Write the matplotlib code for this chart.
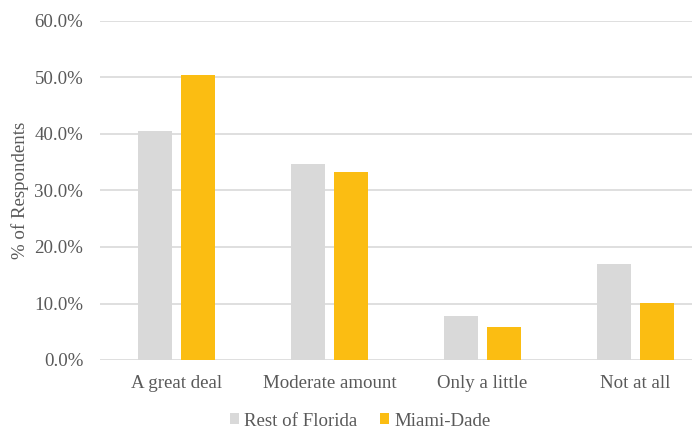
import numpy as np
import matplotlib
matplotlib.use('Agg')
import matplotlib.pyplot as plt
from matplotlib.ticker import FuncFormatter

# survey answers, % of respondents
categories = ['A great deal', 'Moderate amount', 'Only a little', 'Not at all']
rest_of_florida = [40.5, 34.7, 7.7, 17.0]
miami_dade = [50.5, 33.2, 5.9, 10.1]

plt.rcParams['font.family'] = ['Liberation Serif', 'DejaVu Serif']
txtcol = '#595959'

fig = plt.figure(figsize=(6.92, 4.30), dpi=100)
ax = fig.add_axes([100 / 692, 70 / 430, 592 / 692, 339 / 430])

x = np.arange(len(categories))
bw = 0.222
off = 0.141
ax.bar(x - off, rest_of_florida, bw, color='#d9d9d9', label='Rest of Florida', zorder=2)
ax.bar(x + off, miami_dade, bw, color='#fbbd12', label='Miami-Dade', zorder=2)

ax.set_xlim(-0.5, 3.37)
ax.set_ylim(0, 60)
ax.set_yticks(np.arange(0, 61, 10))
ax.yaxis.set_major_formatter(FuncFormatter(lambda v, p: '%.1f%%' % v))
ax.grid(axis='y', color='#d9d9d9', linewidth=1.2, zorder=0)
for s in ax.spines.values():
    s.set_visible(False)
ax.tick_params(length=0, labelsize=13.6, colors=txtcol, pad=12)
ax.tick_params(axis='x', pad=11)
ax.set_xticks(x)
ax.set_xticklabels(categories)
ax.set_ylabel('% of Respondents', fontsize=13.6, color=txtcol, labelpad=4)

leg = fig.legend(*ax.get_legend_handles_labels(), loc='center',
                 bbox_to_anchor=(360 / 692, 1 - 421 / 430), ncol=2, frameon=False,
                 fontsize=13.6, handlelength=0.5, handleheight=0.5, handletextpad=0.25,
                 columnspacing=1.2)
for t in leg.get_texts():
    t.set_color(txtcol)

fig.savefig('out.png', dpi=100)
